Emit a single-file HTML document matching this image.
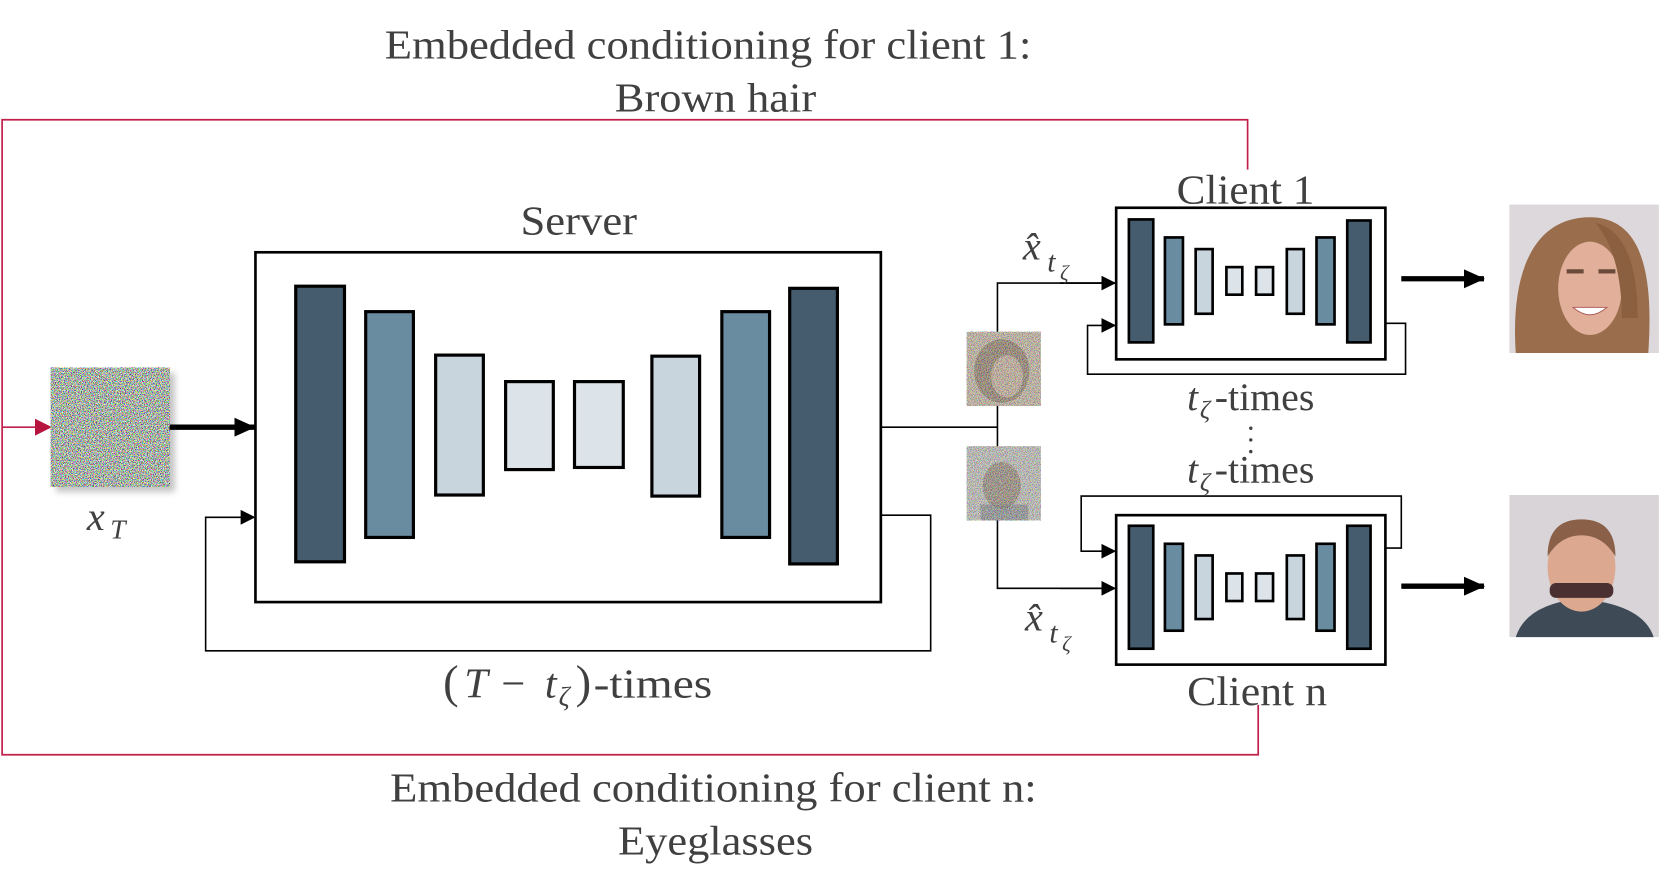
<!DOCTYPE html>
<html><head><meta charset="utf-8"><style>
html,body{margin:0;padding:0;background:#fff;}
svg{display:block}
text{font-family:"Liberation Serif",serif;fill:#404040;}
</style></head><body>
<svg width="1661" height="892" viewBox="0 0 1567 841.5" preserveAspectRatio="none" xmlns="http://www.w3.org/2000/svg">
<defs>
<filter id="nz" x="0" y="0" width="100%" height="100%">
<feTurbulence type="fractalNoise" baseFrequency="1.3" numOctaves="1" seed="5"/>
<feColorMatrix type="matrix" values="4 0 0 0 -1.5  0 4 0 0 -1.45  0 0 4 0 -1.5  0 0 0 0 1"/>
</filter>
<filter id="sh"><feGaussianBlur stdDeviation="3"/></filter>
<marker id="ab" markerWidth="14" markerHeight="14" refX="13" refY="7" orient="auto" markerUnits="userSpaceOnUse"><path d="M0,0 L14,7 L0,14z" fill="#000"/></marker>
<marker id="ab2" markerWidth="20" markerHeight="18" refX="19" refY="9" orient="auto" markerUnits="userSpaceOnUse"><path d="M0,0 L20,9 L0,18z" fill="#000"/></marker>
<marker id="ar" markerWidth="16" markerHeight="16" refX="15" refY="8" orient="auto" markerUnits="userSpaceOnUse"><path d="M0,0 L16,8 L0,16z" fill="#b5153f"/></marker>
</defs>

<text x="363" y="55" font-size="39" textLength="610" lengthAdjust="spacingAndGlyphs">Embedded conditioning for client 1:</text>
<text x="580" y="105" font-size="39" textLength="190" lengthAdjust="spacingAndGlyphs">Brown hair</text>
<text x="368" y="756" font-size="39" textLength="610" lengthAdjust="spacingAndGlyphs">Embedded conditioning for client n:</text>
<text x="583" y="806" font-size="39" textLength="184" lengthAdjust="spacingAndGlyphs">Eyeglasses</text>

<polyline points="1177,160 1177,113 2,113 2,712 1187,712 1187,665" fill="none" stroke="#c0204a" stroke-width="1.6"/>
<line x1="2" y1="403" x2="48" y2="403" stroke="#c0204a" stroke-width="1.6" marker-end="url(#ar)"/>

<rect x="53" y="352" width="112" height="112" fill="#888" opacity="0.5" filter="url(#sh)"/>
<rect x="48" y="347" width="112" height="112" filter="url(#nz)"/>
<line x1="160" y1="403" x2="240" y2="403" stroke="#000" stroke-width="5" marker-end="url(#ab2)"/>
<text x="82" y="500" font-size="38" font-style="italic">x</text>
<text x="104" y="508" font-size="26" font-style="italic">T</text>

<text x="491" y="221" font-size="39" textLength="110" lengthAdjust="spacingAndGlyphs">Server</text>
<rect x="241" y="238" width="590" height="330" fill="none" stroke="#000" stroke-width="2.5"/>
<g stroke="#000" stroke-width="3">
<rect x="279" y="270" width="46" height="260" fill="#445c6e"/>
<rect x="345" y="294" width="45" height="213" fill="#6a8ca0"/>
<rect x="411" y="335" width="45" height="132" fill="#c9d5dd"/>
<rect x="477" y="360" width="45" height="83" fill="#dce4ea"/>
<rect x="542" y="360" width="46" height="81" fill="#dce4ea"/>
<rect x="615" y="336" width="45" height="132" fill="#c9d5dd"/>
<rect x="681" y="294" width="45" height="213" fill="#6a8ca0"/>
<rect x="745" y="272" width="45" height="260" fill="#445c6e"/>
</g>
<polyline points="831,486 878,486 878,614 194,614 194,488 240,488" fill="none" stroke="#000" stroke-width="1.5" marker-end="url(#ab)"/>
<text x="418" y="658" font-size="44">(</text>
<text x="438" y="658" font-size="40" font-style="italic">T</text>
<text x="473" y="658" font-size="40">−</text>
<text x="514" y="658" font-size="40" font-style="italic">t</text>
<text x="527" y="666" font-size="26" font-style="italic">ζ</text>
<text x="543" y="658" font-size="44">)</text>
<text x="560" y="658" font-size="39" textLength="112" lengthAdjust="spacingAndGlyphs">-times</text>

<line x1="831" y1="403" x2="941" y2="403" stroke="#000" stroke-width="1.5"/>
<polyline points="1052,267 941,267 941,555 1052,555" fill="none" stroke="#000" stroke-width="1.5"/>
<line x1="1000" y1="267" x2="1052" y2="267" stroke="#000" stroke-width="1.5" marker-end="url(#ab)"/>
<line x1="1000" y1="555" x2="1052" y2="555" stroke="#000" stroke-width="1.5" marker-end="url(#ab)"/>

<g>
<rect x="912" y="313" width="70" height="70" fill="#c8b0a0"/>
<ellipse cx="945" cy="350" rx="26" ry="30" fill="#6a4a38" opacity="0.6"/>
<ellipse cx="950" cy="355" rx="15" ry="20" fill="#d8b8a8" opacity="0.8"/>
<rect x="912" y="313" width="70" height="70" filter="url(#nz)" opacity="0.45"/>
<rect x="912" y="421" width="70" height="70" fill="#c4bcbc"/>
<ellipse cx="945" cy="458" rx="18" ry="22" fill="#7a5a48" opacity="0.6"/>
<rect x="925" y="476" width="45" height="15" fill="#556" opacity="0.5"/>
<rect x="912" y="421" width="70" height="70" filter="url(#nz)" opacity="0.45"/>
</g>

<text x="965" y="245" font-size="38" font-style="italic">x̂</text>
<text x="988" y="256" font-size="28" font-style="italic">t</text>
<text x="1000" y="264" font-size="20" font-style="italic">ζ</text>
<text x="967" y="595" font-size="38" font-style="italic">x̂</text>
<text x="990" y="606" font-size="28" font-style="italic">t</text>
<text x="1002" y="614" font-size="20" font-style="italic">ζ</text>

<text x="1110" y="192" font-size="39" textLength="130" lengthAdjust="spacingAndGlyphs">Client 1</text>
<rect x="1053" y="196" width="254" height="143" fill="none" stroke="#000" stroke-width="2.5"/>
<g stroke="#000" stroke-width="2.5">
<rect x="1065" y="207" width="23" height="116" fill="#445c6e"/>
<rect x="1099" y="224" width="17" height="82" fill="#6a8ca0"/>
<rect x="1128" y="235" width="16" height="61" fill="#c9d5dd"/>
<rect x="1157" y="252" width="15" height="26" fill="#dce4ea"/>
<rect x="1185" y="252" width="16" height="26" fill="#dce4ea"/>
<rect x="1214" y="235" width="16" height="61" fill="#c9d5dd"/>
<rect x="1242" y="224" width="17" height="82" fill="#6a8ca0"/>
<rect x="1271" y="208" width="22" height="115" fill="#445c6e"/>
</g>
<polyline points="1307,305 1326,305 1326,353 1026,353 1026,307 1052,307" fill="none" stroke="#000" stroke-width="1.5" marker-end="url(#ab)"/>
<text x="1120" y="387" font-size="37" font-style="italic">t</text>
<text x="1132" y="395" font-size="24" font-style="italic">ζ</text>
<text x="1146" y="387" font-size="37" textLength="94" lengthAdjust="spacingAndGlyphs">-times</text>
<g fill="#404040"><circle cx="1180" cy="404" r="1.6"/><circle cx="1180" cy="415" r="1.6"/><circle cx="1180" cy="426" r="1.6"/></g>
<text x="1120" y="455" font-size="37" font-style="italic">t</text>
<text x="1132" y="463" font-size="24" font-style="italic">ζ</text>
<text x="1146" y="455" font-size="37" textLength="94" lengthAdjust="spacingAndGlyphs">-times</text>

<rect x="1053" y="486" width="254" height="141" fill="none" stroke="#000" stroke-width="2.5"/>
<g stroke="#000" stroke-width="2.5">
<rect x="1065" y="496" width="23" height="116" fill="#445c6e"/>
<rect x="1099" y="513" width="17" height="82" fill="#6a8ca0"/>
<rect x="1128" y="524" width="16" height="60" fill="#c9d5dd"/>
<rect x="1157" y="541" width="15" height="26" fill="#dce4ea"/>
<rect x="1185" y="541" width="16" height="26" fill="#dce4ea"/>
<rect x="1214" y="524" width="16" height="60" fill="#c9d5dd"/>
<rect x="1242" y="513" width="17" height="82" fill="#6a8ca0"/>
<rect x="1271" y="496" width="22" height="116" fill="#445c6e"/>
</g>
<polyline points="1307,517 1322,517 1322,468 1020,468 1020,520 1052,520" fill="none" stroke="#000" stroke-width="1.5" marker-end="url(#ab)"/>
<text x="1120" y="665" font-size="39" textLength="132" lengthAdjust="spacingAndGlyphs">Client n</text>

<line x1="1322" y1="263" x2="1400" y2="263" stroke="#000" stroke-width="5" marker-end="url(#ab2)"/>
<line x1="1322" y1="553" x2="1400" y2="553" stroke="#000" stroke-width="5" marker-end="url(#ab2)"/>

<rect x="1424" y="193" width="141" height="140" fill="#dcd8dc"/>
<path d="M1430,333 C1425,260 1445,205 1500,205 C1550,205 1560,260 1555,333 Z" fill="#9a6e4c"/>
<ellipse cx="1500" cy="272" rx="30" ry="44" fill="#e2b09a"/>
<path d="M1505,210 Q1530,240 1530,300 L1545,300 Q1545,220 1505,210Z" fill="#8a6040"/>
<rect x="1478" y="254" width="16" height="4" fill="#6a4a3a"/>
<rect x="1508" y="254" width="16" height="4" fill="#6a4a3a"/>
<path d="M1484,290 Q1500,304 1516,290 Z" fill="#fff" stroke="#b06060"/>
<rect x="1424" y="467" width="141" height="134" fill="#d8d4d8"/>
<path d="M1430,601 Q1440,570 1490,565 Q1550,570 1560,601Z" fill="#3e4a56"/>
<ellipse cx="1492" cy="535" rx="32" ry="42" fill="#dca890"/>
<path d="M1460,525 Q1460,490 1492,490 Q1524,490 1524,525 Q1512,505 1492,505 Q1472,505 1460,525Z" fill="#8a6048"/>
<rect x="1462" y="550" width="60" height="14" rx="6" fill="#4a3030"/>
</svg>
</body></html>
